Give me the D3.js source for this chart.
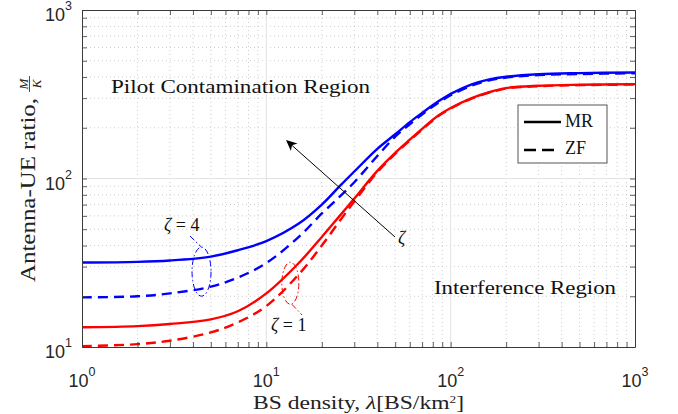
<!DOCTYPE html>
<html><head><meta charset="utf-8">
<script src="https://cdn.jsdelivr.net/npm/d3@7"></script>
<style>
body{margin:0;background:#fff}
.serif{font-family:"Liberation Serif","DejaVu Serif",serif;}
.sans{font-family:"Liberation Sans","DejaVu Sans",sans-serif;}
</style>
</head><body><svg id="c" width="678" height="414" xmlns="http://www.w3.org/2000/svg"></svg>
<script>
// ---- data ----
const lambda   = [1, 2, 3, 5, 7, 10, 15, 20, 25, 30, 40, 50, 60, 70, 85, 100, 130, 160, 200, 300, 500, 1000];
const mrZeta4  = [31.7, 32.0, 32.6, 34.4, 37.5, 42.5, 54, 70, 90, 110, 150, 183, 216, 245, 285, 318, 362, 386, 402, 416, 422, 426];
const zfZeta4  = [19.7, 20.0, 20.8, 22.8, 25.8, 31.5, 45, 62, 78, 95, 136, 177, 210, 240, 280, 312, 356, 381, 397, 411, 417, 421];
const mrZeta1  = [13.1, 13.3, 13.7, 14.6, 16.3, 20.8, 31.5, 45, 60, 76, 111, 142, 170, 197, 235, 262, 300, 324, 344, 355, 360, 363];
const zfZeta1  = [10.1, 10.4, 10.9, 12.2, 14, 17.5, 27, 40, 56, 73, 109, 140, 168, 195, 233, 260, 298, 322, 342, 353, 358, 361];
const xTickExps = [0, 1, 2, 3];
const yTickExps = [1, 2, 3];
const legendLabels = ["MR", "ZF"];
const seriesColors = ["#0000ff", "#0000ff", "#ff0000", "#ff0000"];

const W = 678, H = 414;
const M = {l: 82, t: 10, r: 43, b: 67};
const iw = W - M.l - M.r, ih = H - M.t - M.b;
const svg = d3.select("#c");
const x = d3.scaleLog().domain([1, 1000]).range([0, iw]);
const y = d3.scaleLog().domain([10, 1000]).range([ih, 0]);
const g = svg.append("g").attr("transform", `translate(${M.l},${M.t})`);

// minor values
const xMinor = [], yMinor = [];
[1, 10, 100].forEach(d => { for (let k = 2; k <= 9; k++) xMinor.push(d * k); });
[10, 100].forEach(d => { for (let k = 2; k <= 9; k++) yMinor.push(d * k); });
const xMajor = xTickExps.map(e => Math.pow(10, e));
const yMajor = yTickExps.map(e => Math.pow(10, e));

// ---- grid ----
const grid = g.append("g");
grid.selectAll(".gxm").data(xMinor).join("line")
  .attr("x1", d => x(d)).attr("x2", d => x(d)).attr("y1", 0).attr("y2", ih)
  .attr("stroke", "#b8b8b8").attr("stroke-width", 0.7).attr("stroke-dasharray", "1,3");
grid.selectAll(".gym").data(yMinor).join("line")
  .attr("y1", d => y(d)).attr("y2", d => y(d)).attr("x1", 0).attr("x2", iw)
  .attr("stroke", "#b8b8b8").attr("stroke-width", 0.7).attr("stroke-dasharray", "1,3");
grid.selectAll(".gxM").data(xMajor.slice(1, -1)).join("line")
  .attr("x1", d => x(d)).attr("x2", d => x(d)).attr("y1", 0).attr("y2", ih)
  .attr("stroke", "#e2e2e2").attr("stroke-width", 1);
grid.selectAll(".gyM").data(yMajor.slice(1, -1)).join("line")
  .attr("y1", d => y(d)).attr("y2", d => y(d)).attr("x1", 0).attr("x2", iw)
  .attr("stroke", "#e2e2e2").attr("stroke-width", 1);

// ---- curves ----
const plot = g.append("g");
svg.append("defs").append("clipPath").attr("id", "clip")
  .append("rect").attr("width", iw).attr("height", ih);
plot.attr("clip-path", "url(#clip)");
const line = d3.line().x(d => x(d[0])).y(d => y(d[1])).curve(d3.curveCatmullRom.alpha(0.5));
const series = [
  {v: mrZeta4, dash: null},
  {v: zfZeta4, dash: "10,6"},
  {v: mrZeta1, dash: null},
  {v: zfZeta1, dash: "10,6"}
];
series.forEach((s, i) => {
  plot.append("path")
    .attr("d", line(lambda.map((l, j) => [l, s.v[j]])))
    .attr("fill", "none").attr("stroke", seriesColors[i]).attr("stroke-width", 2.4)
    .attr("stroke-dasharray", s.dash);
});

// ---- axes (ticks inside, box) ----
const axColor = "#3a3a3a";
function styleAxis(sel) {
  sel.select(".domain").attr("stroke", axColor).attr("stroke-width", 1);
  sel.selectAll(".tick line").attr("stroke", axColor).attr("stroke-width", 0.8);
  sel.selectAll(".tick text").remove();
}
const tl = 5;
g.append("g").attr("transform", `translate(0,${ih})`)
  .call(d3.axisBottom(x).tickValues(xMajor.concat(xMinor)).tickSizeInner(-tl).tickSizeOuter(0).tickFormat(""))
  .call(styleAxis);
g.append("g")
  .call(d3.axisTop(x).tickValues(xMajor.concat(xMinor)).tickSizeInner(-tl).tickSizeOuter(0).tickFormat(""))
  .call(styleAxis);
g.append("g")
  .call(d3.axisLeft(y).tickValues(yMajor.concat(yMinor)).tickSizeInner(-tl).tickSizeOuter(0).tickFormat(""))
  .call(styleAxis);
g.append("g").attr("transform", `translate(${iw},0)`)
  .call(d3.axisRight(y).tickValues(yMajor.concat(yMinor)).tickSizeInner(-tl).tickSizeOuter(0).tickFormat(""))
  .call(styleAxis);

// tick labels 10^n
const xl = g.append("g").attr("class", "sans").attr("fill", "#262626");
xTickExps.forEach(e => {
  const t = xl.append("text").attr("x", x(Math.pow(10, e))).attr("y", ih + 40)
    .attr("text-anchor", "middle").attr("font-size", 18);
  t.append("tspan").text("10");
  t.append("tspan").attr("font-size", 12.5).attr("dy", -11).text(e);
});
const yl = g.append("g").attr("class", "sans").attr("fill", "#262626");
yTickExps.forEach(e => {
  const t = yl.append("text").attr("x", -10).attr("y", y(Math.pow(10, e)) + 11)
    .attr("text-anchor", "end").attr("font-size", 18);
  t.append("tspan").text("10");
  t.append("tspan").attr("font-size", 12.5).attr("dy", -11).text(e);
});

// axis titles
const xt = svg.append("text").attr("class", "serif").attr("font-size", 19.5).attr("fill", "#222")
  .attr("x", 253).attr("y", 409).attr("textLength", 211).attr("lengthAdjust", "spacingAndGlyphs");
xt.append("tspan").text("BS density, ");
xt.append("tspan").attr("font-style", "italic").text("λ");
xt.append("tspan").text("[BS/km");
xt.append("tspan").attr("font-size", 11).attr("dy", -6).text("2");
xt.append("tspan").attr("dy", 6).text("]");

const yg = svg.append("g").attr("transform", "translate(0,178) rotate(-90)")
  .attr("class", "serif").attr("fill", "#222");
yg.append("text").attr("x", -104).attr("y", 35).attr("font-size", 20)
  .attr("textLength", 184).attr("lengthAdjust", "spacingAndGlyphs").text("Antenna-UE ratio,");
yg.append("line").attr("x1", 86).attr("x2", 102).attr("y1", 29.5).attr("y2", 29.5)
  .attr("stroke", "#222").attr("stroke-width", 0.8);
yg.append("text").attr("x", 94).attr("y", 27.5).attr("font-size", 13).attr("font-style", "italic")
  .attr("text-anchor", "middle").text("M");
yg.append("text").attr("x", 94).attr("y", 40.5).attr("font-size", 13).attr("font-style", "italic")
  .attr("text-anchor", "middle").text("K");

// ---- region labels ----
svg.append("text").attr("class", "serif").attr("font-size", 18).attr("fill", "#111")
  .attr("x", 111).attr("y", 93).attr("textLength", 259).attr("lengthAdjust", "spacingAndGlyphs")
  .text("Pilot Contamination Region");
svg.append("text").attr("class", "serif").attr("font-size", 18).attr("fill", "#111")
  .attr("x", 434).attr("y", 294).attr("textLength", 182).attr("lengthAdjust", "spacingAndGlyphs")
  .text("Interference Region");

// ---- legend ----
const lg = svg.append("g");
lg.append("rect").attr("x", 518).attr("y", 105).attr("width", 89).attr("height", 58)
  .attr("fill", "#fff").attr("stroke", "#555").attr("stroke-width", 1);
[null, "12,6"].forEach((dash, i) => {
  const yy = 122 + i * 28;
  lg.append("line").attr("x1", 524).attr("x2", i ? 554 : 561).attr("y1", yy).attr("y2", yy)
    .attr("stroke", "#000").attr("stroke-width", 2.4).attr("stroke-dasharray", dash);
  lg.append("text").attr("x", 565).attr("y", yy + 5 + (i ? -1 : 0)).attr("class", "serif")
    .attr("font-size", 18).attr("fill", "#111").text(legendLabels[i]);
});

// ---- annotations ----
const ann = g.append("g");
const tailP = [395 - M.l, 237 - M.t], headP = [286 - M.l, 140 - M.t];
ann.append("line").attr("x1", tailP[0]).attr("y1", tailP[1]).attr("x2", headP[0] + 5).attr("y2", headP[1] + 4.5)
  .attr("stroke", "#000").attr("stroke-width", 1);
const ang = Math.atan2(headP[1] - tailP[1], headP[0] - tailP[0]) * 180 / Math.PI;
ann.append("path").attr("d", "M0,0 L-11,-5 L-8,0 L-11,5 Z")
  .attr("transform", `translate(${headP[0]},${headP[1]}) rotate(${ang})`).attr("fill", "#000");
ann.append("text").attr("x", 398 - M.l).attr("y", 244 - M.t).attr("class", "serif")
  .attr("font-style", "italic").attr("font-size", 18).attr("fill", "#111").text("ζ");

// ζ = 4 ellipse
const eb = [x(4.45), y(28)];
ann.append("ellipse").attr("cx", eb[0]).attr("cy", eb[1]).attr("rx", 9.5).attr("ry", 24.5)
  .attr("fill", "none").attr("stroke", "#0000ff").attr("stroke-width", 1).attr("stroke-dasharray", "6,2.5,1.5,2.5");
ann.append("line").attr("x1", 190 - M.l).attr("y1", 236 - M.t).attr("x2", eb[0]).attr("y2", eb[1] - 24.5)
  .attr("stroke", "#0000ff").attr("stroke-width", 1).attr("stroke-dasharray", "6,2.5,1.5,2.5");
const z4 = ann.append("text").attr("x", 164 - M.l).attr("y", 231 - M.t).attr("class", "serif")
  .attr("font-size", 18).attr("fill", "#111");
z4.append("tspan").attr("font-style", "italic").text("ζ");
z4.append("tspan").text(" = 4");

// ζ = 1 ellipse
const er = [x(13.5), y(23.9)];
ann.append("ellipse").attr("cx", er[0]).attr("cy", er[1]).attr("rx", 8.5).attr("ry", 21)
  .attr("fill", "none").attr("stroke", "#ff0000").attr("stroke-width", 1).attr("stroke-dasharray", "6,2.5,1.5,2.5");
ann.append("line").attr("x1", er[0] + 1.5).attr("y1", er[1] + 21).attr("x2", 302 - M.l).attr("y2", 315 - M.t)
  .attr("stroke", "#ff0000").attr("stroke-width", 1).attr("stroke-dasharray", "6,2.5,1.5,2.5");
const z1 = ann.append("text").attr("x", 271 - M.l).attr("y", 331 - M.t).attr("class", "serif")
  .attr("font-size", 18).attr("fill", "#111");
z1.append("tspan").attr("font-style", "italic").text("ζ");
z1.append("tspan").text(" = 1");
</script>
</body></html>
